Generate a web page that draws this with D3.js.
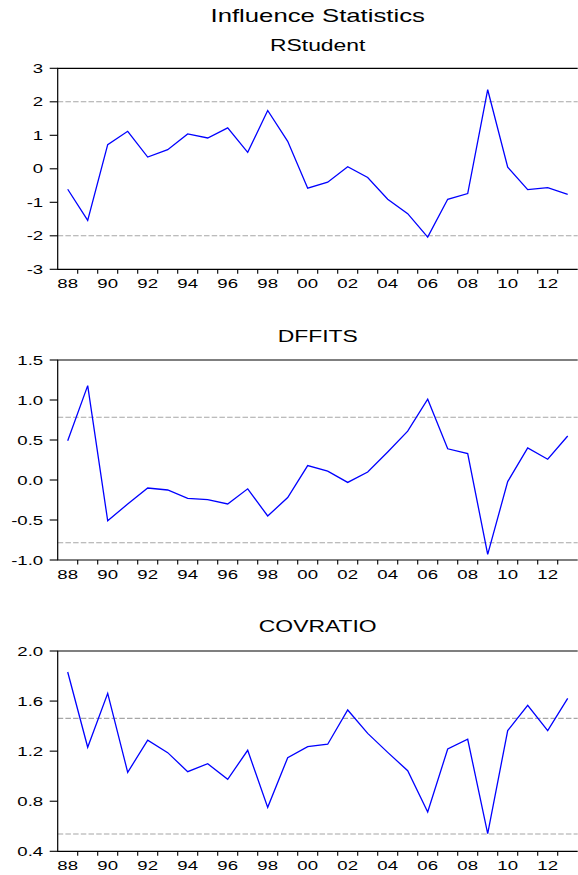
<!DOCTYPE html>
<html>
<head>
<meta charset="utf-8">
<script src="https://cdn.jsdelivr.net/npm/d3@7"></script>
<style>
  html, body { margin: 0; padding: 0; background: #fff; }
  svg { display: block; }
  text { font-family: "Liberation Sans", Arial, sans-serif; fill: #000; }
</style>
</head>
<body>
<script>
// ---- Data ----
const years = d3.range(1988, 2014);
const xLabelYears = [1988, 1990, 1992, 1994, 1996, 1998, 2000, 2002, 2004, 2006, 2008, 2010, 2012];

const rstudent = [-0.61, -1.54, 0.72, 1.12, 0.35, 0.57, 1.04, 0.92, 1.22, 0.49, 1.74, 0.82,
                  -0.58, -0.40, 0.06, -0.26, -0.91, -1.34, -2.04, -0.91, -0.74, 2.36, 0.05, -0.62, -0.56, -0.76];
const dffits = [0.49, 1.18, -0.51, -0.30, -0.10, -0.125, -0.23, -0.245, -0.30, -0.11, -0.45, -0.22,
                0.18, 0.11, -0.03, 0.10, 0.35, 0.61, 1.01, 0.39, 0.33, -0.93, -0.02, 0.40, 0.26, 0.55];
const covratio = [1.832, 1.231, 1.662, 1.031, 1.287, 1.188, 1.036, 1.100, 0.975, 1.207, 0.751, 1.148,
                  1.236, 1.255, 1.529, 1.342, 1.19, 1.044, 0.714, 1.217, 1.295, 0.541, 1.364, 1.566, 1.364, 1.622];

const rstudentTicks = [-3, -2, -1, 0, 1, 2, 3];
const dffitsTicks = [-1.0, -0.5, 0.0, 0.5, 1.0, 1.5];
const covratioTicks = [0.4, 0.8, 1.2, 1.6, 2.0];

const rstudentRefs = [2, -2];
const dffitsRefs = [0.784, -0.784];
const covratioRefs = [1.4615, 0.5385];

const mainTitle = "Influence Statistics";
const panelTitles = ["RStudent", "DFFITS", "COVRATIO"];

// ---- Layout ----
const W = 578, H = 875;
const SX = 1.43; // horizontal text stretch of the original
const plotLeft = 57.7, plotRight = 577.7;

const panels = [
  { title: panelTitles[0], values: rstudent, ticks: rstudentTicks, refs: rstudentRefs,
    domain: [-3, 3], top: 68.3, bottom: 269.3, titleY: 50.7, fmt: d => String(d).replace("−", "-") },
  { title: panelTitles[1], values: dffits, ticks: dffitsTicks, refs: dffitsRefs,
    domain: [-1.0, 1.5], top: 360, bottom: 560, titleY: 341.7, fmt: d => d3.format(".1f")(d).replace("−", "-") },
  { title: panelTitles[2], values: covratio, ticks: covratioTicks, refs: covratioRefs,
    domain: [0.4, 2.0], top: 651, bottom: 851.3, titleY: 632.3, fmt: d => d3.format(".1f")(d) }
];

const svg = d3.select("body").append("svg").attr("width", W).attr("height", H);

function stretchedText(g, x, y, str, size, anchor, baseline) {
  const t = g.append("text")
    .attr("transform", `translate(${x},${y}) scale(${SX},1)`)
    .attr("font-size", size)
    .attr("text-anchor", anchor)
    .text(str);
  if (baseline) t.attr("dy", baseline);
  return t;
}

const cx = (plotLeft + plotRight) / 2;
stretchedText(svg, cx, 21.7, mainTitle, 18, "middle");

const x = d3.scaleLinear().domain([1987.5, 2013.5]).range([plotLeft, plotRight]);

panels.forEach(p => {
  const g = svg.append("g");
  const y = d3.scaleLinear().domain(p.domain).range([p.bottom, p.top]);

  stretchedText(g, cx, p.titleY, p.title, 16, "middle");

  // reference dashed lines
  g.selectAll("line.ref").data(p.refs).enter().append("line")
    .attr("x1", plotLeft).attr("x2", plotRight)
    .attr("y1", d => y(d)).attr("y2", d => y(d))
    .attr("stroke", "#a6a6a6").attr("stroke-width", 1.1)
    .attr("stroke-dasharray", "5.5,2.2");

  // frame: top, left, bottom
  g.append("path")
    .attr("d", `M${plotRight},${p.top}H${plotLeft}V${p.bottom}H${plotRight}`)
    .attr("fill", "none").attr("stroke", "#000").attr("stroke-width", 1.2);

  // y ticks
  g.selectAll("line.yt").data(p.ticks).enter().append("line")
    .attr("x1", plotLeft - 8).attr("x2", plotLeft)
    .attr("y1", d => y(d)).attr("y2", d => y(d))
    .attr("stroke", "#000").attr("stroke-width", 1.1);
  p.ticks.forEach(t => {
    stretchedText(g, plotLeft - 14.5, y(t), p.fmt(t), 13, "end", "0.36em");
  });

  // x ticks at year boundaries
  const bounds = d3.range(1988.5, 2013.5, 1);
  g.selectAll("line.xt").data(bounds).enter().append("line")
    .attr("x1", d => x(d)).attr("x2", d => x(d))
    .attr("y1", p.bottom).attr("y2", p.bottom + 4.5)
    .attr("stroke", "#000").attr("stroke-width", 1.1);
  xLabelYears.forEach(yr => {
    stretchedText(g, x(yr), p.bottom + 19, String(yr % 100).padStart(2, "0"), 13, "middle");
  });

  // series line
  const line = d3.line().x((d, i) => x(years[i])).y(d => y(d));
  g.append("path").datum(p.values)
    .attr("d", line)
    .attr("fill", "none").attr("stroke", "#0000ff").attr("stroke-width", 1.3)
    .attr("stroke-linejoin", "miter");
});
</script>
</body>
</html>
